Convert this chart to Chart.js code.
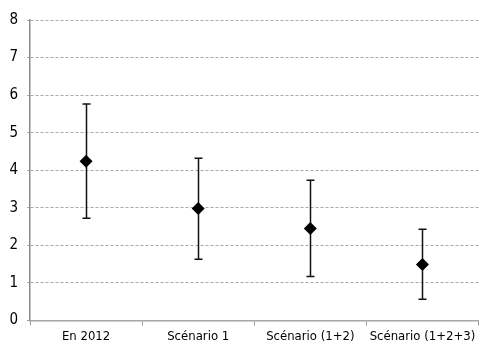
<!DOCTYPE html>
<html>
<head>
<meta charset="utf-8">
<script src="https://cdn.jsdelivr.net/npm/chart.js@4"></script>
<style>
  html, body { margin: 0; padding: 0; background: #fff; }
  #wrap { width: 485px; height: 347px; position: relative; }
</style>
</head>
<body>
<div id="wrap"><canvas id="chart"></canvas></div>
<script>
// Données
const categories = ['En 2012', 'Scénario 1', 'Scénario (1+2)', 'Scénario (1+2+3)'];
const centralValues = [4.24, 2.98, 2.45, 1.49];
const lowValues = [2.72, 1.63, 1.17, 0.56];
const highValues = [5.76, 4.32, 3.73, 2.43];
const yTicks = [0, 1, 2, 3, 4, 5, 6, 7, 8];

const fontFamily = "'DejaVu Sans Condensed', 'Liberation Sans Narrow', sans-serif";

// Barres d'erreur (min / max) dessinées via les échelles
const errorBars = {
  id: 'errorBars',
  beforeDatasetsDraw(chart) {
    const { ctx, scales: { x, y } } = chart;
    ctx.save();
    ctx.strokeStyle = '#111';
    ctx.lineWidth = 1.5;
    categories.forEach((c, i) => {
      const px = Math.round(x.getPixelForValue(i)) + 0.5;
      const top = y.getPixelForValue(highValues[i]);
      const bot = y.getPixelForValue(lowValues[i]);
      ctx.beginPath();
      ctx.moveTo(px, top);
      ctx.lineTo(px, bot);
      ctx.moveTo(px - 4, top);
      ctx.lineTo(px + 4, top);
      ctx.moveTo(px - 4, bot);
      ctx.lineTo(px + 4, bot);
      ctx.stroke();
    });
    ctx.restore();
  }
};

new Chart(document.getElementById('chart'), {
  type: 'line',
  data: {
    labels: categories,
    datasets: [{
      data: centralValues,
      showLine: false,
      pointStyle: 'rectRot',
      pointRadius: 6.5,
      pointHoverRadius: 6.5,
      backgroundColor: '#000',
      borderColor: '#000',
      borderWidth: 0
    }]
  },
  options: {
    responsive: true,
    maintainAspectRatio: false,
    animation: false,
    layout: { padding: { top: 20, right: 0, bottom: 0, left: 0 } },
    plugins: {
      legend: { display: false },
      tooltip: { enabled: false }
    },
    scales: {
      x: {
        type: 'category',
        offset: true,
        grid: {
          offset: true,
          drawOnChartArea: false,
          drawTicks: true,
          tickLength: 5,
          color: '#999'
        },
        border: { display: true, color: '#a6a6a6', width: 1.5 },
        ticks: {
          color: '#000',
          font: { family: fontFamily, size: 13 },
          padding: 3,
          maxRotation: 0,
          autoSkip: false
        }
      },
      y: {
        min: 0,
        max: 8,
        afterBuildTicks(axis) {
          axis.ticks = yTicks.map(v => ({ value: v }));
        },
        afterFit(axis) {
          axis.width = 30;
        },
        grid: {
          color: '#a8a8a8',
          lineWidth: 1,
          tickLength: 3
        },
        border: { display: true, color: '#8c8c8c', width: 1.5, dash: [3, 2] },
        ticks: {
          color: '#000',
          font: { family: fontFamily, size: 15 },
          padding: 9
        }
      }
    }
  },
  plugins: [errorBars]
});
</script>
</body>
</html>
